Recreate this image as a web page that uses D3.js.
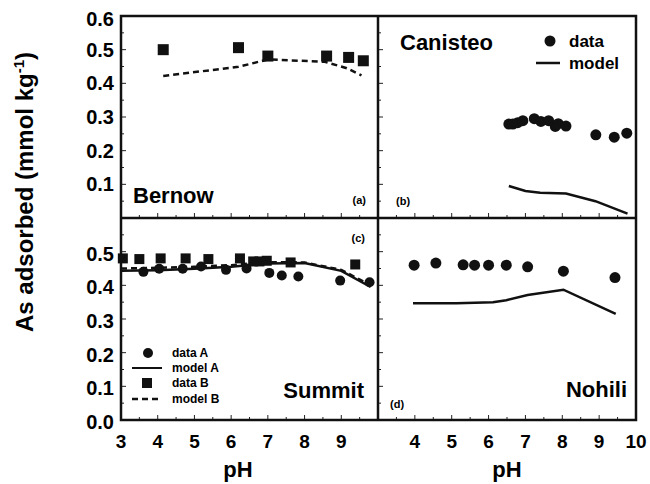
<!DOCTYPE html>
<html>
<head>
<meta charset="utf-8">
<script src="https://cdn.jsdelivr.net/npm/d3@7"></script>
<style>
  body { margin: 0; background: #fff; }
  svg { display: block; font-family: "Liberation Sans", Arial, sans-serif; font-weight: bold; }
</style>
</head>
<body>
<div id="chart"></div>
<script>
// 数据 - 从图中读取
const bernowData = [[4.15, 0.500], [6.2, 0.506], [7.0, 0.481], [8.6, 0.481], [9.2, 0.477], [9.6, 0.467]];
const bernowModel = [[4.15, 0.422], [6.2, 0.449], [7.0, 0.471], [8.55, 0.464], [9.15, 0.445], [9.55, 0.424]];

const canisteoData = [[6.55, 0.279], [6.66, 0.279], [6.79, 0.283], [6.93, 0.289], [7.24, 0.295], [7.42, 0.287],
  [7.63, 0.289], [7.81, 0.272], [7.89, 0.280], [8.1, 0.273], [8.91, 0.247], [9.41, 0.240], [9.75, 0.252]];
const canisteoModel = [[6.55, 0.095], [7.0, 0.080], [7.4, 0.075], [8.1, 0.073], [8.9, 0.050], [9.77, 0.013]];

const summitDataA = [[3.61, 0.440], [4.04, 0.449], [4.68, 0.449], [5.18, 0.456], [5.86, 0.446], [6.42, 0.450],
  [7.04, 0.437], [7.38, 0.429], [7.83, 0.426], [8.97, 0.414], [9.77, 0.409]];
const summitModelA = [[3.0, 0.443], [4.0, 0.445], [5.0, 0.449], [6.0, 0.455], [7.0, 0.465], [8.0, 0.466], [9.0, 0.443], [9.8, 0.395]];
const summitDataB = [[3.05, 0.480], [3.5, 0.478], [4.08, 0.480], [4.76, 0.480], [5.38, 0.478], [6.24, 0.480],
  [6.6, 0.471], [6.77, 0.471], [6.97, 0.473], [7.62, 0.468], [9.38, 0.462]];
const summitModelB = [[3.0, 0.450], [4.0, 0.452], [5.0, 0.455], [6.0, 0.460], [7.0, 0.469], [8.0, 0.468], [9.0, 0.446], [9.8, 0.400]];

const nohiliData = [[3.98, 0.460], [4.57, 0.466], [5.31, 0.461], [5.62, 0.460], [6.0, 0.460], [6.48, 0.460],
  [7.06, 0.455], [8.03, 0.442], [9.43, 0.423]];
const nohiliModel = [[3.95, 0.347], [5.13, 0.347], [6.12, 0.350], [6.48, 0.356], [7.06, 0.371], [8.03, 0.387], [9.45, 0.315]];

const yTickValues = [0.0, 0.1, 0.2, 0.3, 0.4, 0.5, 0.6];
const xTickValues = [3, 4, 5, 6, 7, 8, 9, 10];

const width = 650, height = 484;
const svg = d3.select('#chart').append('svg')
  .attr('width', width).attr('height', height);

// 面板位置
const xLeft = d3.scaleLinear().domain([3, 10]).range([121, 378]);
const xRight = d3.scaleLinear().domain([3, 10]).range([378, 636]);
const yTop = d3.scaleLinear().domain([0, 0.6]).range([218, 16]);
const yBottom = d3.scaleLinear().domain([0, 0.6]).range([420, 218]);

const panels = [
  { x: xLeft, y: yTop },
  { x: xRight, y: yTop },
  { x: xLeft, y: yBottom },
  { x: xRight, y: yBottom }
];

// 刻度线(朝内)
panels.forEach(p => {
  const g = svg.append('g');
  const minorY = d3.range(0.05, 0.6, 0.05);
  g.selectAll('.ty').data(minorY).enter().append('line')
    .attr('x1', p.x(3)).attr('x2', (d, i) => p.x(3) + (i % 2 ? 5 : 3))
    .attr('y1', d => p.y(d)).attr('y2', d => p.y(d))
    .attr('stroke', '#222').attr('stroke-width', 1);
  const minorX = d3.range(3.5, 10, 0.5);
  g.selectAll('.tx').data(minorX).enter().append('line')
    .attr('x1', d => p.x(d)).attr('x2', d => p.x(d))
    .attr('y1', p.y(0)).attr('y2', d => p.y(0) - (Number.isInteger(d) ? 5 : 3))
    .attr('stroke', '#222').attr('stroke-width', 1);
});

// 边框
svg.append('rect')
  .attr('x', xLeft(3)).attr('y', yTop(0.6))
  .attr('width', xRight(10) - xLeft(3)).attr('height', yBottom(0) - yTop(0.6))
  .attr('fill', 'none').attr('stroke', '#111').attr('stroke-width', 2.5);
svg.append('line')
  .attr('x1', xLeft(10)).attr('x2', xLeft(10)).attr('y1', yTop(0.6)).attr('y2', yBottom(0))
  .attr('stroke', '#111').attr('stroke-width', 2.5);
svg.append('line')
  .attr('x1', xLeft(3)).attr('x2', xRight(10)).attr('y1', yTop(0)).attr('y2', yTop(0))
  .attr('stroke', '#111').attr('stroke-width', 2.5);

// 坐标轴标签
svg.append('g').selectAll('text').data(yTickValues.slice(1)).enter().append('text')
  .attr('x', 114).attr('y', d => yTop(d) + (d === 0.6 ? 3 : 0)).attr('dy', '0.35em')
  .attr('text-anchor', 'end').style('font-size', '20px').text(d => d.toFixed(1));
svg.append('g').selectAll('text').data(yTickValues.slice(0, 6)).enter().append('text')
  .attr('x', 114).attr('y', d => yBottom(d) + 2).attr('dy', '0.35em')
  .attr('text-anchor', 'end').style('font-size', '20px').text(d => d.toFixed(1));
svg.append('g').selectAll('text').data(xTickValues.slice(0, 7)).enter().append('text')
  .attr('x', d => xLeft(d)).attr('y', 448)
  .attr('text-anchor', 'middle').style('font-size', '19px').text(d => d);
svg.append('g').selectAll('text').data(xTickValues.slice(1)).enter().append('text')
  .attr('x', d => xRight(d)).attr('y', 448)
  .attr('text-anchor', 'middle').style('font-size', '19px').text(d => d);

svg.append('text').attr('x', 238).attr('y', 477).attr('text-anchor', 'middle')
  .style('font-size', '22px').text('pH');
svg.append('text').attr('x', 507).attr('y', 477).attr('text-anchor', 'middle')
  .style('font-size', '22px').text('pH');

const yLabel = svg.append('text')
  .attr('transform', 'translate(33,192) rotate(-90)')
  .attr('text-anchor', 'middle').style('font-size', '24px');
yLabel.append('tspan').text('As adsorbed (mmol kg');
yLabel.append('tspan').attr('dy', -9).style('font-size', '15px').text('-1');
yLabel.append('tspan').attr('dy', 9).text(')');

// 绘图函数
function drawLine(p, data, dashed) {
  const line = d3.line().x(d => p.x(d[0])).y(d => p.y(d[1]));
  svg.append('path').datum(data)
    .attr('d', line).attr('fill', 'none')
    .attr('stroke', '#111').attr('stroke-width', 2.5)
    .attr('stroke-dasharray', dashed ? '6,4' : null);
}
function drawCircles(p, data, r) {
  svg.append('g').selectAll('circle').data(data).enter().append('circle')
    .attr('cx', d => p.x(d[0])).attr('cy', d => p.y(d[1])).attr('r', r).attr('fill', '#111');
}
function drawSquares(p, data, s) {
  svg.append('g').selectAll('rect').data(data).enter().append('rect')
    .attr('x', d => p.x(d[0]) - s / 2).attr('y', d => p.y(d[1]) - s / 2)
    .attr('width', s).attr('height', s).attr('fill', '#111');
}
function label(x, y, txt, size, anchor) {
  svg.append('text').attr('x', x).attr('y', y)
    .attr('text-anchor', anchor || 'start').style('font-size', size + 'px').text(txt);
}

// (a) Bernow
drawLine(panels[0], bernowModel, true);
drawSquares(panels[0], bernowData, 11);
label(133, 203, 'Bernow', 22);
label(366, 204, '(a)', 11, 'end');

// (b) Canisteo
drawLine(panels[1], canisteoModel, false);
drawCircles(panels[1], canisteoData, 5.5);
label(400, 50, 'Canisteo', 22);
svg.append('circle').attr('cx', 550).attr('cy', 41).attr('r', 5.5).attr('fill', '#111');
label(569, 47, 'data', 17);
svg.append('line').attr('x1', 536).attr('x2', 560).attr('y1', 63).attr('y2', 63)
  .attr('stroke', '#111').attr('stroke-width', 2.5);
label(569, 69, 'model', 17);
label(396, 205, '(b)', 11);

// (c) Summit
drawLine(panels[2], summitModelA, false);
drawLine(panels[2], summitModelB, true);
drawCircles(panels[2], summitDataA, 5);
drawSquares(panels[2], summitDataB, 10);
label(365, 242, '(c)', 11, 'end');
label(364, 398, 'Summit', 22, 'end');
svg.append('circle').attr('cx', 148).attr('cy', 353).attr('r', 5).attr('fill', '#111');
label(172, 357, 'data A', 12);
svg.append('line').attr('x1', 132).attr('x2', 162).attr('y1', 368).attr('y2', 368)
  .attr('stroke', '#111').attr('stroke-width', 2);
label(172, 372, 'model A', 12);
svg.append('rect').attr('x', 142).attr('y', 378).attr('width', 10).attr('height', 10).attr('fill', '#111');
label(172, 387, 'data B', 12);
svg.append('line').attr('x1', 132).attr('x2', 162).attr('y1', 399).attr('y2', 399)
  .attr('stroke', '#111').attr('stroke-width', 2.5).attr('stroke-dasharray', '6,4');
label(172, 403, 'model B', 12);

// (d) Nohili
drawLine(panels[3], nohiliModel, false);
drawCircles(panels[3], nohiliData, 5.5);
label(627, 397, 'Nohili', 22, 'end');
label(390, 408, '(d)', 11);
</script>
</body>
</html>
